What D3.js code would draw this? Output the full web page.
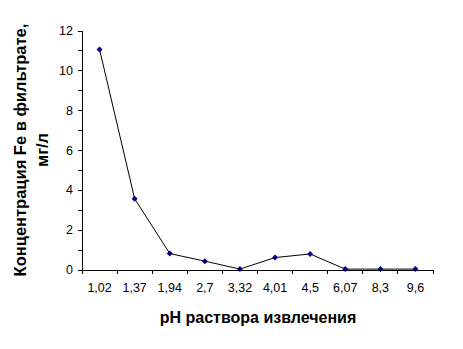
<!DOCTYPE html>
<html>
<head>
<meta charset="utf-8">
<script src="https://cdn.jsdelivr.net/npm/d3@7"></script>
<style>
  body { margin: 0; background: #fff; }
  svg { display: block; font-family: "Liberation Sans", Arial, sans-serif; }
</style>
</head>
<body>
<svg id="chart" width="463" height="349"></svg>
<script>
// pH values (categories) and Fe concentration, mg/l
var phLabels = ["1,02", "1,37", "1,94", "2,7", "3,32", "4,01", "4,5", "6,07", "8,3", "9,6"];
var feValues = [11.05, 3.55, 0.8, 0.42, 0.02, 0.6, 0.78, 0.02, 0.02, 0.02];
var yTicks = [0, 2, 4, 6, 8, 10, 12];
var yMinorTicks = [1, 3, 5, 7, 9, 11];

var svg = d3.select('#chart');
var plotLeft = 82, plotRight = 433, plotTop = 30.5, plotBottom = 269.5;

var x = d3.scaleBand().domain(phLabels).range([plotLeft, plotRight]);
var y = d3.scaleLinear().domain([0, 12]).range([plotBottom, plotTop]);

// y axis
svg.append('g').attr('transform', 'translate(' + plotLeft + ',0)')
    .call(d3.axisLeft(y).tickValues(yTicks).tickSize(4).tickPadding(5).tickFormat(d3.format('d')));
svg.append('g').attr('transform', 'translate(' + plotLeft + ',0)')
    .call(d3.axisLeft(y).tickValues(yMinorTicks).tickSize(4).tickFormat(''))
    .select('.domain').remove();

// x axis: ticks between categories
var xAxis = svg.append('g').attr('transform', 'translate(0,' + plotBottom + ')')
    .call(d3.axisBottom(x).tickSize(0).tickPadding(14));
xAxis.selectAll('.boundary')
    .data(d3.range(phLabels.length + 1))
    .enter().append('line')
    .attr('class', 'boundary')
    .attr('x1', function(i) { return plotLeft + i * x.step() })
    .attr('x2', function(i) { return plotLeft + i * x.step() })
    .attr('y1', 0).attr('y2', 4)
    .attr('stroke', '#000');

svg.selectAll('.domain').attr('stroke', '#000').attr('shape-rendering', 'crispEdges');
svg.selectAll('g line').attr('shape-rendering', 'crispEdges');
svg.selectAll('.tick text').attr('font-size', 12.5).attr('fill', '#000')
    .attr('font-family', '"Liberation Sans", Arial, sans-serif');

// data line
var line = d3.line()
    .x(function(d, i) { return x(phLabels[i]) + x.bandwidth() / 2 })
    .y(function(d) { return y(d) });
svg.append('path').datum(feValues)
    .attr('d', line).attr('fill', 'none').attr('stroke', '#000').attr('stroke-width', 1);

// diamond markers
svg.selectAll('.pt').data(feValues).enter().append('path')
    .attr('class', 'pt')
    .attr('transform', function(d, i) {
        return 'translate(' + (x(phLabels[i]) + x.bandwidth() / 2) + ',' + y(d) + ')' })
    .attr('d', 'M0,-3L3,0L0,3L-3,0Z')
    .attr('fill', '#000080');

// axis titles
svg.append('text')
    .attr('x', 258).attr('y', 323)
    .attr('text-anchor', 'middle').attr('font-size', 16).attr('font-weight', 'bold')
    .text('pH раствора извлечения');

var yTitle = svg.append('text')
    .attr('transform', 'translate(26,150) rotate(-90)')
    .attr('text-anchor', 'middle').attr('font-size', 16.5).attr('font-weight', 'bold');
yTitle.append('tspan').attr('x', 0).attr('dy', 0).text('Концентрация Fe в фильтрате,');
yTitle.append('tspan').attr('x', 0).attr('dy', 22).text('мг/л');
</script>
</body>
</html>
